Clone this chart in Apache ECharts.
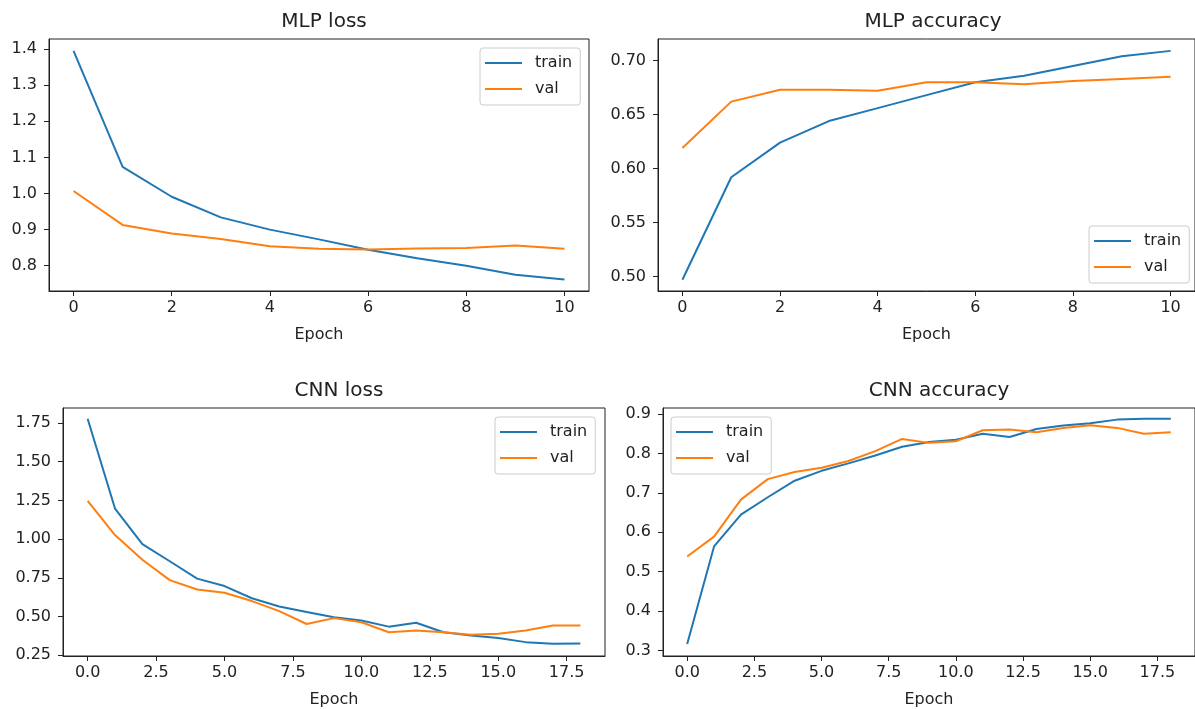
<!DOCTYPE html>
<html>
<head>
<meta charset="utf-8">
<script src="https://cdn.jsdelivr.net/npm/echarts@6/dist/echarts.min.js"></script>
<style>
  html, body { margin: 0; padding: 0; background: #fff; }
  #main { width: 1195px; height: 709px; }
</style>
</head>
<body>
<div id="main"></div>
<script>
// data
var mlpEpochs = [0, 1, 2, 3, 4, 5, 6, 7, 8, 9, 10];
var mlpTrainLoss = [1.395, 1.074, 0.991, 0.934, 0.900, 0.873, 0.844, 0.821, 0.800, 0.775, 0.762];
var mlpValLoss = [1.007, 0.913, 0.889, 0.874, 0.854, 0.847, 0.845, 0.848, 0.849, 0.856, 0.847];
var mlpTrainAcc = [0.497, 0.592, 0.624, 0.644, 0.656, 0.668, 0.680, 0.686, 0.695, 0.704, 0.709];
var mlpValAcc = [0.619, 0.662, 0.673, 0.673, 0.672, 0.680, 0.680, 0.678, 0.681, 0.683, 0.685];

var cnnEpochs = [0, 1, 2, 3, 4, 5, 6, 7, 8, 9, 10, 11, 12, 13, 14, 15, 16, 17, 18];
var cnnTrainLoss = [1.777, 1.197, 0.967, 0.857, 0.745, 0.697, 0.618, 0.565, 0.530, 0.495, 0.474, 0.435, 0.460, 0.399, 0.378, 0.361, 0.335, 0.324, 0.326];
var cnnValLoss = [1.246, 1.026, 0.867, 0.735, 0.675, 0.654, 0.600, 0.535, 0.452, 0.490, 0.463, 0.399, 0.410, 0.399, 0.382, 0.389, 0.410, 0.442, 0.442];
var cnnTrainAcc = [0.3165, 0.564, 0.645, 0.689, 0.731, 0.756, 0.775, 0.795, 0.817, 0.829, 0.835, 0.850, 0.842, 0.862, 0.871, 0.877, 0.886, 0.888, 0.888];
var cnnValAcc = [0.5385, 0.589, 0.683, 0.735, 0.753, 0.764, 0.781, 0.806, 0.837, 0.827, 0.831, 0.859, 0.861, 0.854, 0.865, 0.872, 0.865, 0.850, 0.854];

// tick labels
var mlpXTicks = [0, 2, 4, 6, 8, 10];
var cnnXTicks = [0, 2.5, 5, 7.5, 10, 12.5, 15, 17.5];
var mlpLossTicks = [0.8, 0.9, 1.0, 1.1, 1.2, 1.3, 1.4];
var mlpAccTicks = [0.50, 0.55, 0.60, 0.65, 0.70];
var cnnLossTicks = [0.25, 0.50, 0.75, 1.00, 1.25, 1.50, 1.75];
var cnnAccTicks = [0.3, 0.4, 0.5, 0.6, 0.7, 0.8, 0.9];

var titles = ['MLP loss', 'MLP accuracy', 'CNN loss', 'CNN accuracy'];

var BLUE = '#1f77b4';
var ORANGE = '#ff7f0e';
var FONT = 'DejaVu Sans';
var TXT = '#222';

function pairs(xs, ys) {
    var out = [];
    for (var i = 0; i < xs.length; i++) {
        out.push([xs[i], ys[i]]);
    }
    return out;
}

function makeX(idx, min, max, ticks, digits) {
    return {
        type: 'value', gridIndex: idx, min: min, max: max,
        name: 'Epoch', nameLocation: 'middle', nameGap: 36,
        nameTextStyle: { fontFamily: FONT, fontSize: 16, color: TXT },
        axisLine: { onZero: false, lineStyle: { color: TXT, width: 1 } },
        axisTick: { show: true, length: 5, lineStyle: { color: TXT }, customValues: ticks },
        axisLabel: {
            fontFamily: FONT, fontSize: 16, color: TXT, margin: 9,
            customValues: ticks,
            formatter: function (v) { return v.toFixed(digits); }
        },
        splitLine: { show: false }
    };
}

function makeY(idx, min, max, ticks, digits) {
    return {
        type: 'value', gridIndex: idx, min: min, max: max,
        axisLine: { show: true, onZero: false, lineStyle: { color: TXT, width: 1 } },
        axisTick: { show: true, length: 5, lineStyle: { color: TXT }, customValues: ticks },
        axisLabel: {
            fontFamily: FONT, fontSize: 16, color: TXT, margin: 12,
            customValues: ticks,
            formatter: function (v) { return v.toFixed(digits); }
        },
        splitLine: { show: false }
    };
}

function makeLegend(ids, left, top) {
    return {
        data: ids, orient: 'vertical', left: left, top: top,
        icon: 'rect', itemWidth: 37, itemHeight: 2, itemGap: 8,
        padding: [6, 8, 7, 5],
        backgroundColor: 'rgba(255,255,255,0.8)',
        borderColor: '#cccccc', borderWidth: 1, borderRadius: 3,
        textStyle: { fontFamily: FONT, fontSize: 16, color: TXT, lineHeight: 18, padding: [0, 0, 0, 8] },
        selectedMode: false
    };
}

function makeLine(name, idx, xs, ys, color) {
    return {
        name: name, type: 'line', xAxisIndex: idx, yAxisIndex: idx,
        data: pairs(xs, ys), showSymbol: false, symbol: 'none',
        lineStyle: { color: color, width: 2 }, itemStyle: { color: color },
        animation: false
    };
}

var myChart = echarts.init(document.getElementById('main'));

var option = {
    backgroundColor: '#fff',
    animation: false,
    title: [
        { text: titles[0], left: 319, top: 7, textAlign: 'center', textStyle: { fontFamily: FONT, fontSize: 20, fontWeight: 'normal', color: TXT } },
        { text: titles[1], left: 928, top: 7, textAlign: 'center', textStyle: { fontFamily: FONT, fontSize: 20, fontWeight: 'normal', color: TXT } },
        { text: titles[2], left: 334, top: 376, textAlign: 'center', textStyle: { fontFamily: FONT, fontSize: 20, fontWeight: 'normal', color: TXT } },
        { text: titles[3], left: 934, top: 376, textAlign: 'center', textStyle: { fontFamily: FONT, fontSize: 20, fontWeight: 'normal', color: TXT } }
    ],
    grid: [
        { left: 49, top: 39, width: 540, height: 252, show: true, borderColor: TXT, borderWidth: 1, backgroundColor: 'transparent' },
        { left: 658, top: 39, width: 540, height: 252, show: true, borderColor: TXT, borderWidth: 1, backgroundColor: 'transparent' },
        { left: 63, top: 408, width: 542, height: 251, show: true, borderColor: TXT, borderWidth: 1, backgroundColor: 'transparent' },
        { left: 663, top: 408, width: 542, height: 251, show: true, borderColor: TXT, borderWidth: 1, backgroundColor: 'transparent' }
    ],
    xAxis: [
        makeX(0, -0.5, 10.5, mlpXTicks, 0),
        makeX(1, -0.5, 10.5, mlpXTicks, 0),
        makeX(2, -0.9, 18.9, cnnXTicks, 1),
        makeX(3, -0.9, 18.9, cnnXTicks, 1)
    ],
    yAxis: [
        makeY(0, 0.730, 1.428, mlpLossTicks, 1),
        makeY(1, 0.4866, 0.7200, mlpAccTicks, 2),
        makeY(2, 0.2455, 1.846, cnnLossTicks, 2),
        makeY(3, 0.286, 0.9155, cnnAccTicks, 1)
    ],
    legend: [
        makeLegend(['train', 'val'], 480, 48),
        makeLegend(['train', 'val'], 1089, 226),
        makeLegend(['train', 'val'], 495, 417),
        makeLegend(['train', 'val'], 671, 417)
    ],
    series: [
        makeLine('train', 0, mlpEpochs, mlpTrainLoss, BLUE),
        makeLine('val', 0, mlpEpochs, mlpValLoss, ORANGE),
        makeLine('train', 1, mlpEpochs, mlpTrainAcc, BLUE),
        makeLine('val', 1, mlpEpochs, mlpValAcc, ORANGE),
        makeLine('train', 2, cnnEpochs, cnnTrainLoss, BLUE),
        makeLine('val', 2, cnnEpochs, cnnValLoss, ORANGE),
        makeLine('train', 3, cnnEpochs, cnnTrainAcc, BLUE),
        makeLine('val', 3, cnnEpochs, cnnValAcc, ORANGE)
    ]
};

myChart.setOption(option);
</script>
</body>
</html>
